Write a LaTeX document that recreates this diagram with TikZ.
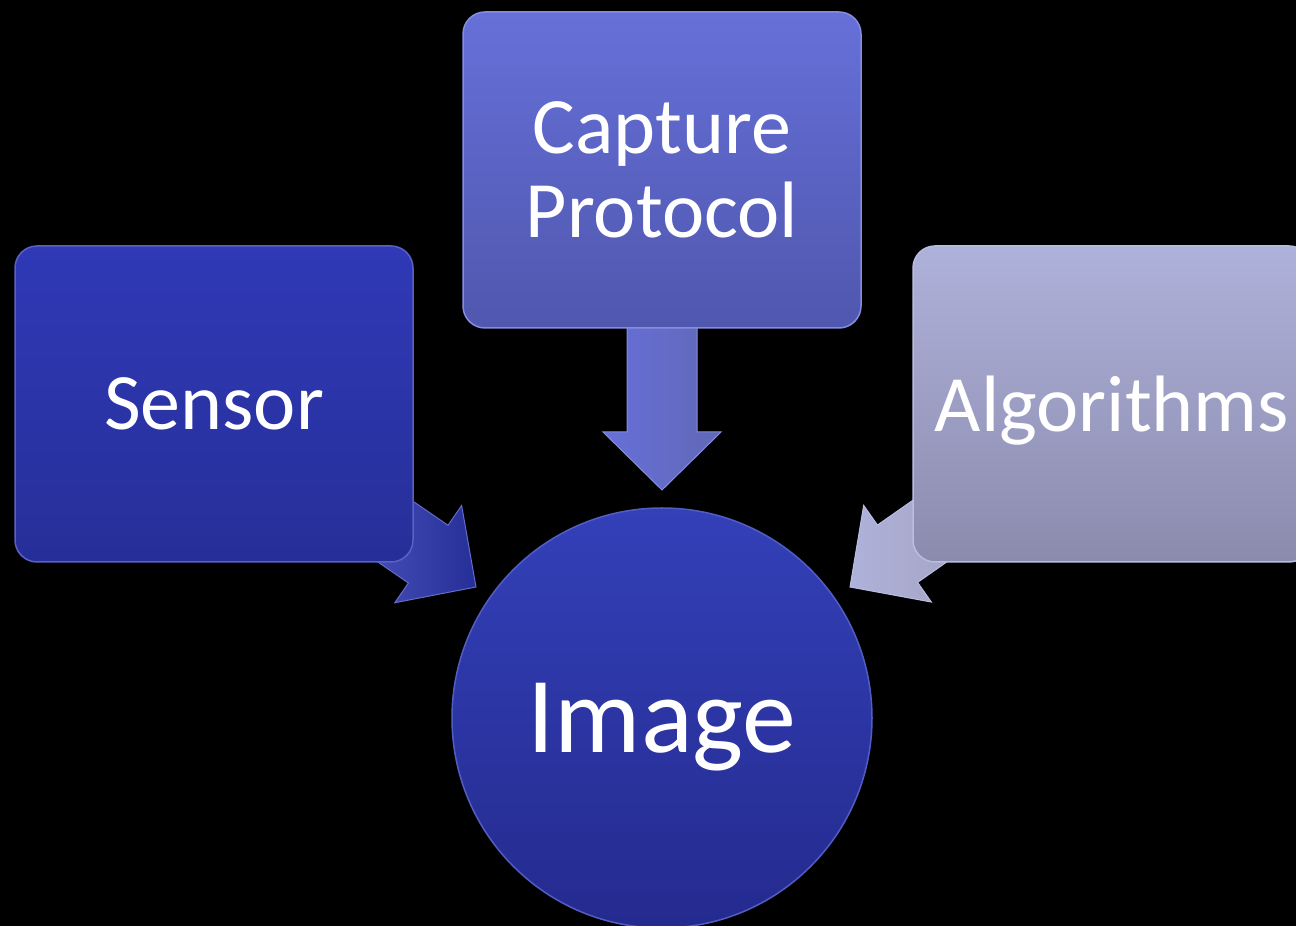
\documentclass[tikz,border=0pt]{standalone}
\usepackage{fontspec}
\setmainfont{Carlito}
\definecolor{sensTop}{HTML}{3039B6}
\definecolor{sensBot}{HTML}{262F98}
\definecolor{capTop}{HTML}{6670D8}
\definecolor{capBot}{HTML}{4F57AE}
\definecolor{algTop}{HTML}{AEB1DA}
\definecolor{algBot}{HTML}{8B8BAD}
\definecolor{imgTop}{HTML}{3340B8}
\definecolor{imgBot}{HTML}{242A8E}
\tikzset{
  box/.style={rounded corners=22pt, minimum width=398pt, minimum height=316pt,
    inner sep=0pt, text=white, font=\fontsize{80}{84}\selectfont, align=center,
    line width=1.5pt, text depth=0pt},
  sensbox/.style={box, top color=sensTop, bottom color=sensBot, draw=sensTop!80!white},
  capbox/.style={box, top color=capTop, bottom color=capBot, draw=capTop!80!white},
  algbox/.style={box, top color=algTop, bottom color=algBot, draw=algTop!85!white},
  imgcircle/.style={circle, minimum size=420pt, inner sep=0pt, text=white,
    font=\fontsize{108}{110}\selectfont, top color=imgTop, bottom color=imgBot,
    draw=imgTop!85!white, line width=1.5pt, text depth=0pt},
  arrowshape/.style={line width=1pt, line join=miter}
}
% arrow polygon: tip at origin pointing along +x, tail length #1
\newcommand{\blockarrow}[1]{(0,0) -- (-58,59) -- (-58,35) -- (-#1,35) -- (-#1,-35) -- (-58,-35) -- (-58,-59) -- cycle}
\begin{document}
\begin{tikzpicture}[x=1pt,y=1pt]
\fill[black] (0,0) rectangle (1296,926);
\useasboundingbox (0,0) rectangle (1296,926);
% arrows (behind boxes)
\begin{scope}[shift={(476,339)}, rotate=-34.5]
  \path[arrowshape, left color=sensTop!85!white, right color=sensBot, draw=sensTop!75!white] \blockarrow{150};
\end{scope}
\begin{scope}[shift={(662,436)}, rotate=-90]
  \path[arrowshape, left color=capTop, right color=capBot!90!white, draw=capTop!80!white] \blockarrow{180};
\end{scope}
\begin{scope}[shift={(850,339)}, rotate=-145]
  \path[arrowshape, left color=algTop, right color=algBot!80!white, draw=algTop!85!white] \blockarrow{150};
\end{scope}
% boxes
\node[sensbox] (sensor) at (214,522) {Sensor};
\node[capbox] (capture) at (662,756) {Capture\\Protocol};
\node[algbox] (alg) at (1112,522) {Algorithms};
\node[imgcircle] (image) at (662,208) {Image};
\end{tikzpicture}
\end{document}
